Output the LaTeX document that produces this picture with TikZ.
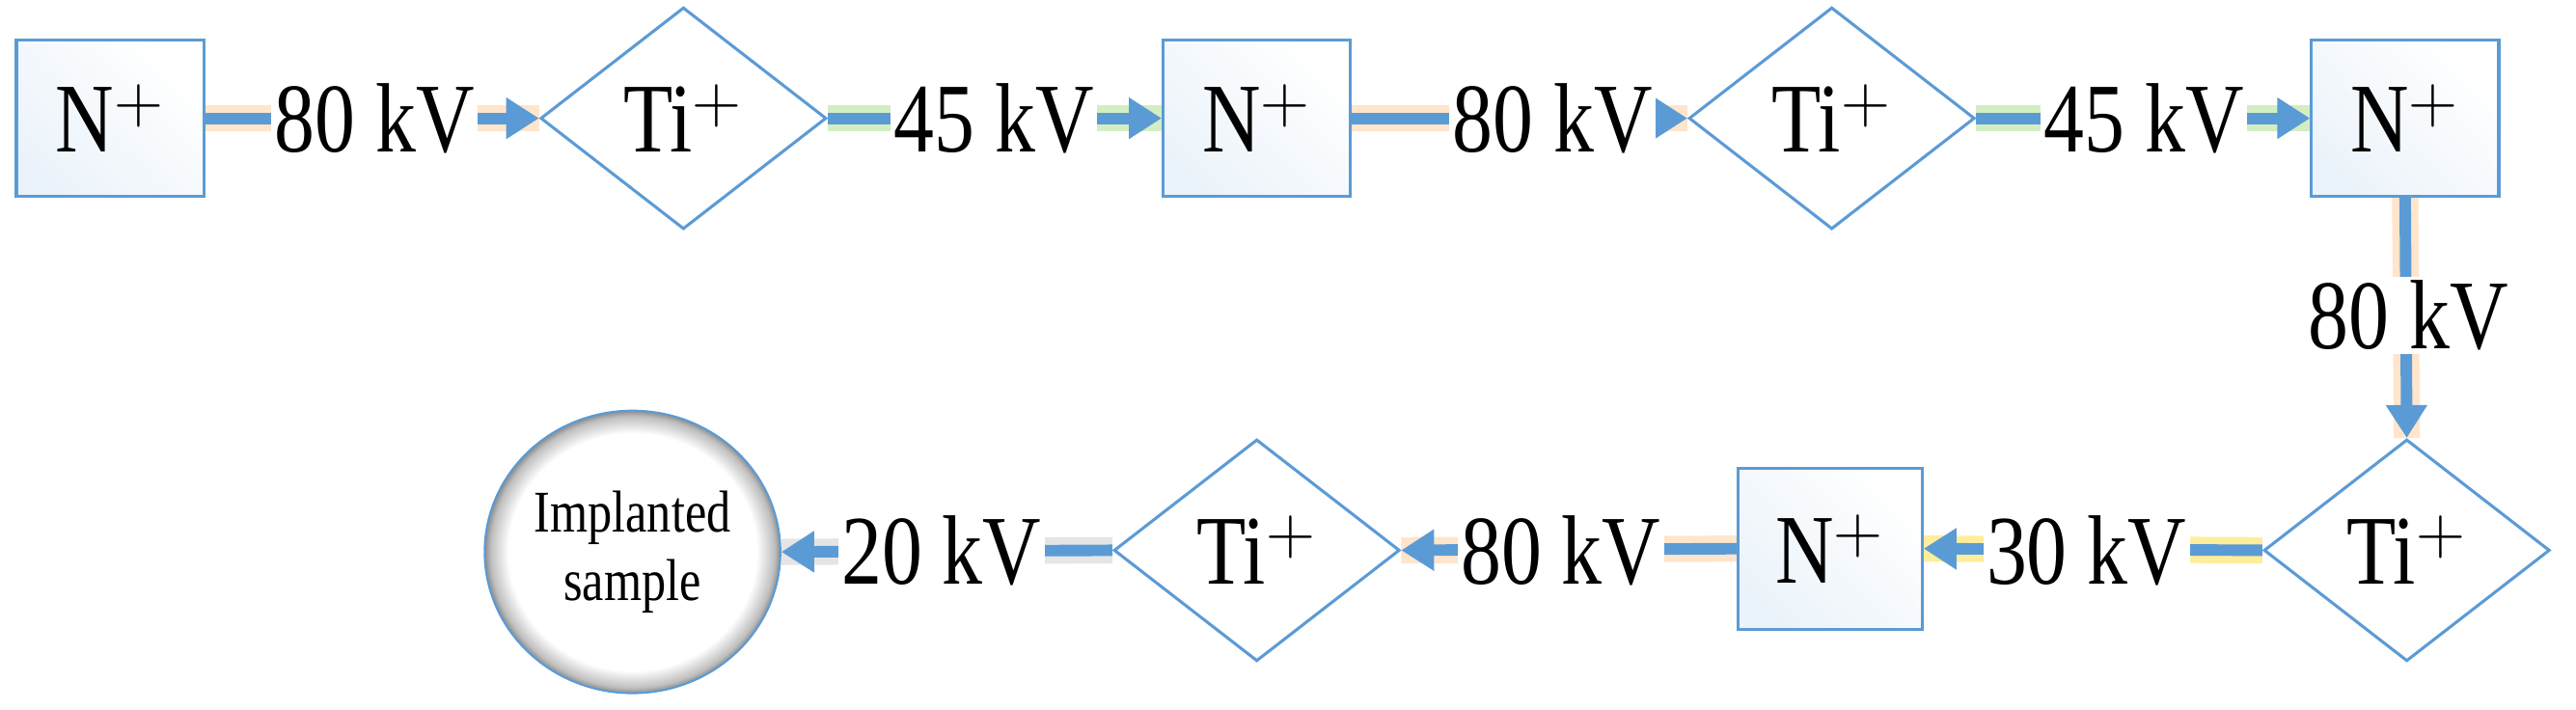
\documentclass[tikz,border=0pt]{standalone}
\usepackage{fontspec}
\setmainfont[FakeStretch=0.82]{Liberation Serif}
\usetikzlibrary{shapes.geometric,arrows.meta}
\definecolor{lb}{RGB}{91,155,213}
\pgfdeclareradialshading{rim}{\pgfpoint{0bp}{0bp}}{color(0bp)=(white);color(21bp)=(white);color(24bp)=(black!25);color(25bp)=(black!45);color(50bp)=(black!45)}
\begin{document}
\begin{tikzpicture}[x=0.5pt,y=-0.5pt,
  ion/.style={draw=lb,line width=0.9pt,font=\fontsize{30}{34}\selectfont,inner sep=0},
  nbox/.style={ion,rectangle,minimum width=57pt,minimum height=47.5pt,top color=lb!12,bottom color=white,shading angle=135},
  tid/.style={ion,diamond,aspect=1.29,minimum width=87pt,minimum height=67.5pt,fill=white},
  lab/.style={fill=white,inner sep=1pt,font=\fontsize{30}{34}\selectfont},
  con/.style={draw=lb,line width=3.5pt,-{Triangle[length=10pt,width=12pt]}},
  glow/.style={line width=8pt,opacity=0.4}]
\useasboundingbox (0,0) rectangle (1568,432);
\node[nbox] (n1) at (67,72) {N$^+$};
\node[tid] (t1) at (416,72) {Ti$^+$};
\node[nbox] (n2) at (765,72) {N$^+$};
\node[tid] (t2) at (1115,72) {Ti$^+$};
\node[nbox] (n3) at (1464,72) {N$^+$};
\node[tid] (t3) at (1465,335) {Ti$^+$};
\node[nbox,minimum width=56pt,minimum height=49pt] (n4) at (1114,334) {N$^+$};
\node[tid] (t4) at (765,335) {Ti$^+$};
\node[ellipse,draw=lb,line width=0.6pt,inner sep=0pt,minimum width=90pt,minimum height=86pt,shading=rim,align=center,font=\fontsize{18}{21}\selectfont] (s) at (385,336) {Implanted\\sample};
\coordinate (l1) at (228,72);
\coordinate (l2) at (605,72);
\coordinate (l3) at (945,72);
\coordinate (l4) at (1305,72);
\coordinate (l5) at (1466,192);
\coordinate (l6) at (1270,335);
\coordinate (l7) at (950,335);
\coordinate (l8) at (573,335);
% glows
\draw[glow,orange!50] (n1.east) -- (t1.west);
\draw[glow,green!45!olive!60] (t1.east) -- (n2.west);
\draw[glow,orange!50] (n2.east) -- (t2.west);
\draw[glow,green!45!olive!60] (t2.east) -- (n3.west);
\draw[glow,orange!50] (n3.south) -- (t3.north);
\draw[glow,yellow!70!orange] (t3.west) -- (n4.east);
\draw[glow,orange!50] (n4.west) -- (t4.east);
\draw[glow,gray!50] (t4.west) -- (s.east);
% connectors
\draw[con] (n1.east) -- (t1.west);
\draw[con] (t1.east) -- (n2.west);
\draw[con] (n2.east) -- (t2.west);
\draw[con] (t2.east) -- (n3.west);
\draw[con] (n3.south) -- (t3.north);
\draw[con] (t3.west) -- (n4.east);
\draw[con] (n4.west) -- (t4.east);
\draw[con] (t4.west) -- (s.east);
% labels
\node[lab] at (l1) {80 kV};
\node[lab] at (l2) {45 kV};
\node[lab] at (l3) {80 kV};
\node[lab] at (l4) {45 kV};
\node[lab] at (l5) {80 kV};
\node[lab] at (l6) {30 kV};
\node[lab] at (l7) {80 kV};
\node[lab] at (l8) {20 kV};
\end{tikzpicture}
\end{document}
